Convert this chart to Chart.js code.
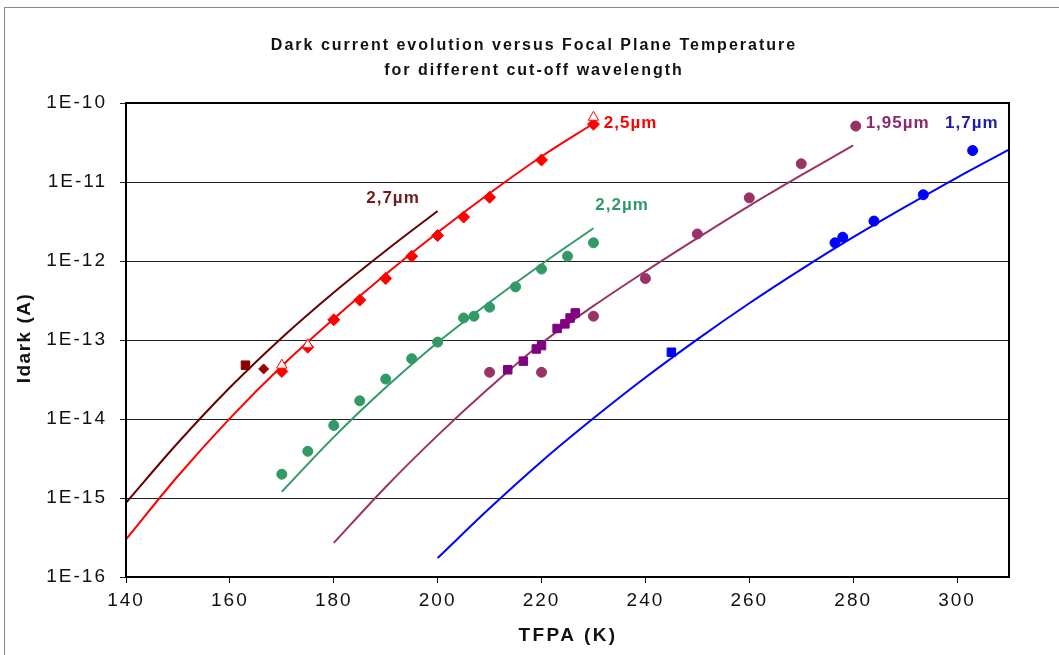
<!DOCTYPE html>
<html lang="en">
<head>
    <meta charset="UTF-8">
    <title>Dark current evolution versus Focal Plane Temperature</title>
    <script src="https://cdn.jsdelivr.net/npm/chart.js"></script>
    <style>
        body {
            margin: 0;
            padding: 0;
            background: #fff;
        }

        #wrap {
            position: relative;
            width: 1059px;
            height: 655px;
        }
    </style>
</head>
<body>
<div id="wrap">
    <canvas id="dark-chart" width="1059" height="655"></canvas>
</div>

<script>
    // axis ticks
    const xTicks = [140, 160, 180, 200, 220, 240, 260, 280, 300];
    const yTicks = [1e-16, 1e-15, 1e-14, 1e-13, 1e-12, 1e-11, 1e-10];

    // fitted curves, every 10 K
    const fit27T = [140, 150, 160, 170, 180, 190, 200];
    const fit27I = [8.7e-16, 5.0e-15, 2.5e-14, 1.07e-13, 4.0e-13, 1.35e-12, 4.3e-12];

    const fit25T = [140, 150, 160, 170, 180, 190, 200, 210, 220, 230];
    const fit25I = [3.0e-16, 1.9e-15, 1.02e-14, 4.7e-14, 1.86e-13, 6.8e-13, 2.3e-12, 7.2e-12, 2.1e-11, 5.5e-11];

    const fit22T = [170, 180, 190, 200, 210, 220, 230];
    const fit22I = [1.2e-15, 5.9e-15, 2.5e-14, 9.3e-14, 3.0e-13, 9.1e-13, 2.6e-12];

    const fit195T = [180, 190, 200, 210, 220, 230, 240, 250, 260, 270, 280];
    const fit195I = [2.7e-16, 1.38e-15, 6.2e-15, 2.5e-14, 9.1e-14, 2.7e-13, 7.4e-13, 1.95e-12, 5.0e-12, 1.22e-11, 2.9e-11];

    const fit17T = [200, 210, 220, 230, 240, 250, 260, 270, 280, 290, 300, 310];
    const fit17I = [1.74e-16, 7.4e-16, 2.9e-15, 1.02e-14, 3.35e-14, 1.02e-13, 2.92e-13, 7.85e-13, 2.0e-12, 4.84e-12, 1.14e-11, 2.57e-11];

    // measured points
    const m27SqT = [163];
    const m27SqI = [4.8e-14];
    const m27DiT = [166.5];
    const m27DiI = [4.3e-14];

    const m25DiT = [170, 175, 180, 185, 190, 195, 200, 205, 210, 220, 230];
    const m25DiI = [4.0e-14, 8.1e-14, 1.8e-13, 3.2e-13, 6.0e-13, 1.15e-12, 2.1e-12, 3.6e-12, 6.4e-12, 1.9e-11, 5.4e-11];
    const m25TrT = [170, 175, 230];
    const m25TrI = [4.8e-14, 8.7e-14, 6.6e-11];

    const m22T = [170, 175, 180, 185, 190, 195, 200, 205, 207, 210, 215, 220, 225, 230];
    const m22I = [2.0e-15, 3.9e-15, 8.3e-15, 1.7e-14, 3.2e-14, 5.8e-14, 9.4e-14, 1.9e-13, 2.0e-13, 2.6e-13, 4.7e-13, 7.9e-13, 1.15e-12, 1.7e-12];

    const m195CiT = [210, 220, 230, 240, 250, 260, 270, 280.5];
    const m195CiI = [3.9e-14, 3.9e-14, 2.0e-13, 6.0e-13, 2.2e-12, 6.3e-12, 1.7e-11, 5.1e-11];
    const m195SqT = [213.5, 216.5, 219, 220, 223, 224.5, 225.5, 226.5];
    const m195SqI = [4.2e-14, 5.4e-14, 7.7e-14, 8.5e-14, 1.4e-13, 1.6e-13, 1.9e-13, 2.2e-13];

    const m17SqT = [245];
    const m17SqI = [7.0e-14];
    const m17CiT = [276.5, 278, 284, 293.5, 303];
    const m17CiI = [1.7e-12, 2.0e-12, 3.2e-12, 6.9e-12, 2.5e-11];

    // curve labels
    const curveTags = [
        { text: '2,7µm', t: 191.4, i: 6.3e-12, color: '#6e1b1b', align: 'center' },
        { text: '2,5µm', t: 232, i: 5.6e-11, color: '#ff0000', align: 'left' },
        { text: '2,2µm', t: 235.5, i: 5.1e-12, color: '#2f9a68', align: 'center' },
        { text: '1,95µm', t: 282.4, i: 5.6e-11, color: '#8b2a6b', align: 'left' },
        { text: '1,7µm', t: 297.7, i: 5.6e-11, color: '#1e1eaa', align: 'left' }
    ];

    const FONT = '"Liberation Sans", Arial, sans-serif';

    function pairs(xs, ys) {
        return xs.map((x, k) => ({ x: x, y: ys[k] }));
    }

    function fitLine(label, xs, ys, color) {
        return {
            label: label,
            data: pairs(xs, ys),
            showLine: true,
            borderColor: color,
            borderWidth: 2,
            pointRadius: 0,
            tension: 0.35,
            order: 2
        };
    }

    function marks(label, xs, ys, style, radius, fill, border) {
        return {
            label: label,
            data: pairs(xs, ys),
            showLine: false,
            pointStyle: style,
            pointRadius: radius,
            backgroundColor: fill,
            borderColor: border || fill,
            borderWidth: 1,
            order: 1
        };
    }

    const framePlugin = {
        id: 'frame',
        beforeDraw(chart) {
            const ctx = chart.ctx;
            ctx.fillStyle = '#fff';
            ctx.fillRect(0, 0, chart.width, chart.height);
            ctx.strokeStyle = '#8a8a8a';
            ctx.lineWidth = 1;
            ctx.strokeRect(4.5, 7.5, chart.width + 20, chart.height + 20);
            // tick labels in the original are drawn wide
            ctx.letterSpacing = '2px';
        },
        afterDatasetsDraw(chart) {
            const ctx = chart.ctx;
            const xs = chart.scales.x;
            const ys = chart.scales.y;
            ctx.save();
            ctx.font = 'bold 17px ' + FONT;
            ctx.letterSpacing = '1px';
            ctx.textBaseline = 'middle';
            curveTags.forEach(tag => {
                ctx.fillStyle = tag.color;
                ctx.textAlign = tag.align;
                ctx.fillText(tag.text, xs.getPixelForValue(tag.t), ys.getPixelForValue(tag.i));
            });
            ctx.restore();
        },
        afterDraw(chart) {
            const ctx = chart.ctx;
            const a = chart.chartArea;
            ctx.save();
            ctx.strokeStyle = '#000';
            ctx.lineWidth = 2;
            ctx.strokeRect(a.left, a.top, a.right - a.left, a.bottom - a.top);

            // titles
            ctx.fillStyle = '#111';
            ctx.textAlign = 'center';
            ctx.textBaseline = 'middle';
            ctx.font = 'bold 16px ' + FONT;
            ctx.letterSpacing = '2px';
            ctx.fillText('Dark current evolution versus Focal Plane Temperature', 534, 46);
            ctx.fillText('for different cut-off wavelength', 534, 71);

            ctx.font = 'bold 19px ' + FONT;
            ctx.letterSpacing = '2.4px';
            ctx.fillText('TFPA (K)', 568, 636);
            ctx.letterSpacing = '1.5px';
            ctx.translate(25, 338);
            ctx.rotate(-Math.PI / 2);
            ctx.fillText('Idark (A)', 0, 0);
            ctx.restore();
        }
    };

    function drawChart() {
        const ctx = document.getElementById('dark-chart').getContext('2d');

        new Chart(ctx, {
            type: 'scatter',
            data: {
                datasets: [
                    marks('2,5µm ref', m25TrT, m25TrI, 'triangle', 6, '#ffffff', '#ff0000'),
                    marks('2,7µm sq', m27SqT, m27SqI, 'rect', 6, '#8b0000'),
                    marks('2,7µm', m27DiT, m27DiI, 'rectRot', 5, '#990000'),
                    marks('2,5µm', m25DiT, m25DiI, 'rectRot', 6, '#ff0000'),
                    marks('2,2µm', m22T, m22I, 'circle', 5, '#339966'),
                    marks('1,95µm', m195CiT, m195CiI, 'circle', 5, '#993366'),
                    marks('1,95µm sq', m195SqT, m195SqI, 'rect', 6, '#800080'),
                    marks('1,7µm sq', m17SqT, m17SqI, 'rect', 6, '#0000ff'),
                    marks('1,7µm', m17CiT, m17CiI, 'circle', 5, '#0000ff'),
                    fitLine('fit 2,7µm', fit27T, fit27I, '#660000'),
                    fitLine('fit 2,5µm', fit25T, fit25I, '#ff0000'),
                    fitLine('fit 2,2µm', fit22T, fit22I, '#339966'),
                    fitLine('fit 1,95µm', fit195T, fit195I, '#993366'),
                    fitLine('fit 1,7µm', fit17T, fit17I, '#0000ff')
                ]
            },
            options: {
                responsive: false,
                animation: false,
                layout: {
                    padding: { top: 103, right: 50, bottom: 0, left: 0 }
                },
                plugins: {
                    legend: { display: false },
                    title: { display: false },
                    tooltip: { enabled: false }
                },
                scales: {
                    x: {
                        type: 'linear',
                        min: 140,
                        max: 310,
                        afterBuildTicks: scale => {
                            scale.ticks = xTicks.map(v => ({ value: v }));
                        },
                        afterFit: scale => {
                            scale.height = 78;
                        },
                        grid: {
                            drawOnChartArea: false,
                            drawTicks: true,
                            tickLength: 6,
                            color: '#000'
                        },
                        border: { color: '#000', width: 2 },
                        ticks: {
                            color: '#111',
                            padding: 6,
                            maxRotation: 0,
                            font: { family: FONT, size: 19 }
                        }
                    },
                    y: {
                        type: 'logarithmic',
                        min: 1e-16,
                        max: 1e-10,
                        afterBuildTicks: scale => {
                            scale.ticks = yTicks.map(v => ({ value: v, major: true }));
                        },
                        afterFit: scale => {
                            scale.width = 126;
                        },
                        grid: {
                            color: '#222',
                            lineWidth: 1,
                            drawTicks: true,
                            tickLength: 6
                        },
                        border: { color: '#000', width: 2 },
                        ticks: {
                            color: '#111',
                            padding: 13,
                            autoSkip: false,
                            font: { family: FONT, size: 19 },
                            callback: value => '1E' + Math.round(Math.log10(value))
                        }
                    }
                }
            },
            plugins: [framePlugin]
        });
    }

    document.addEventListener('DOMContentLoaded', drawChart);
</script>

</body>
</html>
